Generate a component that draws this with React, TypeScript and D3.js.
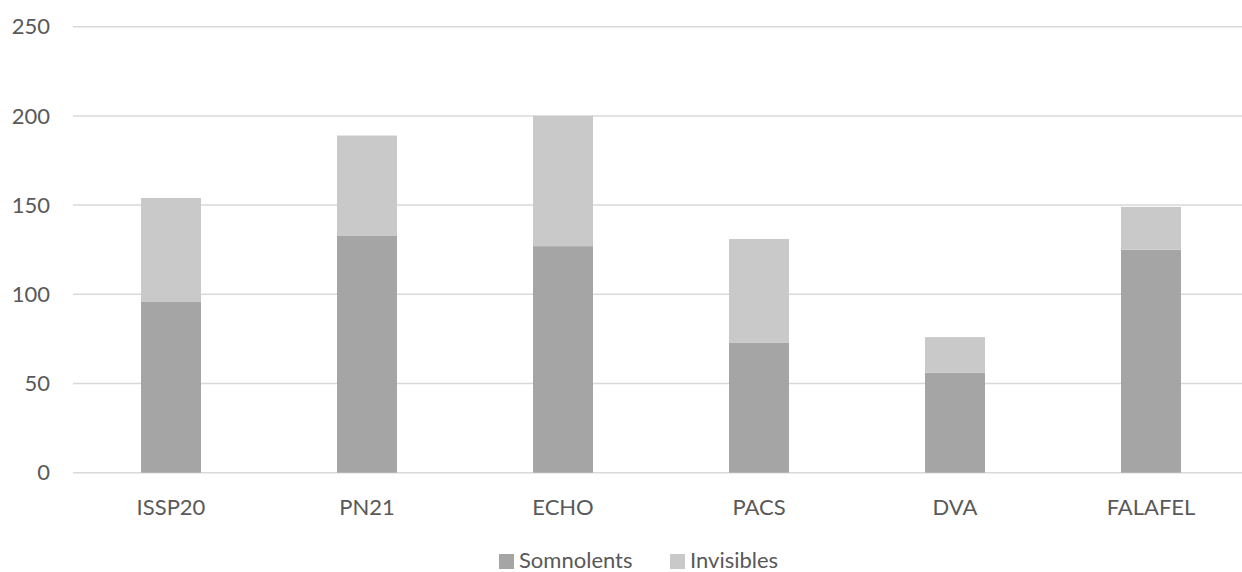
import React from "react";
import * as d3 from "d3";

const categories = ["ISSP20", "PN21", "ECHO", "PACS", "DVA", "FALAFEL"];
const somnolents = [96, 133, 127, 73, 56, 125];
const invisibles = [58, 56, 73, 58, 20, 24];
const yTicks = [0, 50, 100, 150, 200, 250];
const seriesNames = ["Somnolents", "Invisibles"];
const seriesColors = ["#a5a5a5", "#c9c9c9"];

const W = 1242;
const H = 572;
const FONT = "Lato, 'Open Sans', sans-serif";

export default function App() {
  const x = d3.scaleBand<string>().domain(categories).range([73, 1249]).paddingInner(0.694).paddingOuter(0.347);
  const y = d3.scaleLinear().domain([0, 250]).range([472.7, 26.7]);

  const rows = categories.map((c, i) => ({ cat: c, Somnolents: somnolents[i], Invisibles: invisibles[i] }));
  const stacked = d3.stack<any>().keys(seriesNames)(rows);

  return (
    <svg width={W} height={H} style={{ position: "absolute", left: 0, top: 0, background: "#fff" }} fontFamily={FONT}>
      <rect x={0} y={0} width={W} height={H} fill="#fff" />
      {yTicks.map((t) => (
        <g key={t}>
          <line x1={73} x2={W} y1={y(t)} y2={y(t)} stroke="#d9d9d9" strokeWidth={1.5} />
          <text x={50} y={y(t)} dy="0.35em" textAnchor="end" fontSize={22} fill="#595959">
            {t}
          </text>
        </g>
      ))}
      {stacked.map((s, si) => (
        <g key={s.key} fill={seriesColors[si]}>
          {s.map((d, i) => (
            <rect key={i} x={x(categories[i])} width={x.bandwidth()} y={y(d[1])} height={y(d[0]) - y(d[1])} />
          ))}
        </g>
      ))}
      {categories.map((c) => (
        <text key={c} x={(x(c) as number) + x.bandwidth() / 2} y={515} textAnchor="middle" fontSize={22} fill="#595959">
          {c}
        </text>
      ))}
      <g>
        <rect x={499} y={554} width={15} height={15} fill={seriesColors[0]} />
        <text x={519} y={568} fontSize={22} fill="#595959">{seriesNames[0]}</text>
        <rect x={670} y={554} width={15} height={15} fill={seriesColors[1]} />
        <text x={690} y={568} fontSize={22} fill="#595959">{seriesNames[1]}</text>
      </g>
    </svg>
  );
}
